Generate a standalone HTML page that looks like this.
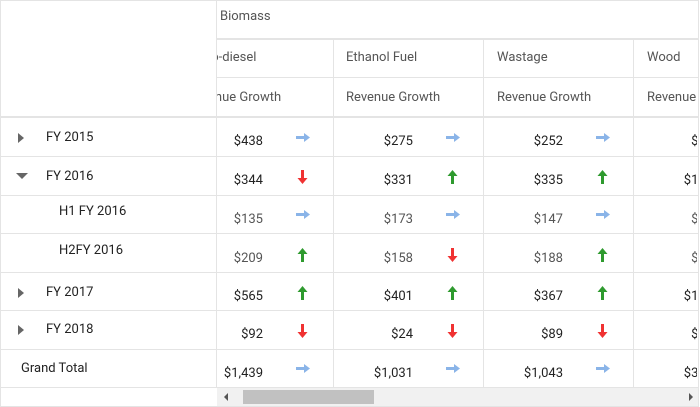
<!DOCTYPE html>
<html><head><style>
*{margin:0;padding:0;box-sizing:border-box}
body{width:700px;height:407px;background:#fff;font-family:"Roboto","Liberation Sans",sans-serif;font-size:13px;color:#333;position:relative;overflow:hidden}
.a{position:absolute}
.hl{position:absolute;height:1px;background:#e4e4e4}
.vl{position:absolute;width:1px;background:#e4e4e4}
.lbl{position:absolute;white-space:nowrap;line-height:16px}
.v{position:absolute;text-align:right;width:80px;line-height:16px;white-space:nowrap}
.b{color:#222;font-weight:400}
.n{color:#555}
.clip{position:absolute;left:217px;top:0;width:480px;height:387px;overflow:hidden}
.clip .in{position:absolute;left:-217px;top:0;width:900px;height:387px}
</style></head><body>
<div class="hl" style="left:0;top:0;width:699px"></div>
<div class="vl" style="left:0;top:0;height:407px"></div>
<div class="vl" style="left:698px;top:0;height:407px"></div>
<div class="hl" style="left:0;top:406px;width:699px"></div>
<div class="vl" style="left:216px;top:0;height:387px"></div>
<div class="hl" style="left:0;top:116px;width:699px;height:2px"></div>
<div class="hl" style="left:0;top:156px;width:699px"></div>
<div class="hl" style="left:0;top:195px;width:699px"></div>
<div class="hl" style="left:0;top:233px;width:699px"></div>
<div class="hl" style="left:0;top:272px;width:699px"></div>
<div class="hl" style="left:0;top:310px;width:699px"></div>
<div class="hl" style="left:0;top:349px;width:699px"></div>
<div class="hl" style="left:0;top:387px;width:699px"></div>
<div class="hl" style="left:216px;top:38px;width:483px;height:2px"></div>
<div class="hl" style="left:216px;top:77px;width:483px"></div>

<svg class="a" style="left:17px;top:133px" width="9" height="10"><path d="M1 0 L7 5 L1 10Z" fill="#666"/></svg>
<div class="lbl b" style="left:46px;top:130px">FY 2015</div>
<svg class="a" style="left:16px;top:173px" width="12" height="7"><path d="M0 0 L12 0 L6 6Z" fill="#666"/></svg>
<div class="lbl b" style="left:46px;top:169px">FY 2016</div>
<div class="lbl b" style="left:59px;top:204px">H1 FY 2016</div>
<div class="lbl b" style="left:59px;top:243px">H2FY 2016</div>
<svg class="a" style="left:17px;top:288px" width="9" height="10"><path d="M1 0 L7 5 L1 10Z" fill="#666"/></svg>
<div class="lbl b" style="left:46px;top:285px">FY 2017</div>
<svg class="a" style="left:17px;top:325px" width="9" height="10"><path d="M1 0 L7 5 L1 10Z" fill="#666"/></svg>
<div class="lbl b" style="left:46px;top:322px">FY 2018</div>
<div class="lbl b" style="left:21px;top:361px">Grand Total</div>

<div class="clip"><div class="in">
<div class="lbl n" style="left:220px;top:9px">Biomass</div>
<div class="vl" style="left:333px;top:39px;height:348px"></div>
<div class="vl" style="left:483px;top:39px;height:348px"></div>
<div class="vl" style="left:633px;top:39px;height:348px"></div>
<div class="lbl n" style="left:200px;top:50px">Bio-diesel</div>
<div class="lbl n" style="left:346px;top:50px">Ethanol Fuel</div>
<div class="lbl n" style="left:497px;top:50px">Wastage</div>
<div class="lbl n" style="left:647px;top:50px">Wood</div>
<div class="lbl n" style="left:187px;top:90px">Revenue Growth</div>
<div class="lbl n" style="left:346px;top:90px">Revenue Growth</div>
<div class="lbl n" style="left:497px;top:90px">Revenue Growth</div>
<div class="lbl n" style="left:647px;top:90px">Revenue Growth</div>

<svg width="0" height="0" style="position:absolute"><defs>
<g id="r"><path d="M0 5.5 H9" stroke="#8ab4e8" stroke-width="3"/><path d="M8 1 L14 5.5 L8 10Z" fill="#8ab4e8"/></g>
<g id="u"><path d="M5.5 14 V5" stroke="#2e9a2e" stroke-width="3"/><path d="M0.5 6 L5.5 0 L10.5 6Z" fill="#2e9a2e"/></g>
<g id="d"><path d="M5.5 0 V9" stroke="#f03232" stroke-width="3"/><path d="M0.5 8 L5.5 14 L10.5 8Z" fill="#f03232"/></g>
</defs></svg>

<div class="v b" style="left:183px;top:134px">$438</div><svg class="a" style="left:296px;top:131px" width="14" height="14"><use href="#r" y="1"/></svg>
<div class="v b" style="left:183px;top:173px">$344</div><svg class="a" style="left:297px;top:170px" width="14" height="14"><use href="#d"/></svg>
<div class="v n" style="left:183px;top:212px">$135</div><svg class="a" style="left:296px;top:208px" width="14" height="14"><use href="#r" y="1"/></svg>
<div class="v n" style="left:183px;top:251px">$209</div><svg class="a" style="left:297px;top:248px" width="14" height="14"><use href="#u"/></svg>
<div class="v b" style="left:183px;top:289px">$565</div><svg class="a" style="left:297px;top:286px" width="14" height="14"><use href="#u"/></svg>
<div class="v b" style="left:183px;top:327px">$92</div><svg class="a" style="left:297px;top:324px" width="14" height="14"><use href="#d"/></svg>
<div class="v b" style="left:183px;top:366px">$1,439</div><svg class="a" style="left:296px;top:362px" width="14" height="14"><use href="#r" y="1"/></svg>

<div class="v b" style="left:333px;top:134px">$275</div><svg class="a" style="left:446px;top:131px" width="14" height="14"><use href="#r" y="1"/></svg>
<div class="v b" style="left:333px;top:173px">$331</div><svg class="a" style="left:447px;top:170px" width="14" height="14"><use href="#u"/></svg>
<div class="v n" style="left:333px;top:212px">$173</div><svg class="a" style="left:446px;top:208px" width="14" height="14"><use href="#r" y="1"/></svg>
<div class="v n" style="left:333px;top:251px">$158</div><svg class="a" style="left:447px;top:248px" width="14" height="14"><use href="#d"/></svg>
<div class="v b" style="left:333px;top:289px">$401</div><svg class="a" style="left:447px;top:286px" width="14" height="14"><use href="#u"/></svg>
<div class="v b" style="left:333px;top:327px">$24</div><svg class="a" style="left:447px;top:324px" width="14" height="14"><use href="#d"/></svg>
<div class="v b" style="left:333px;top:366px">$1,031</div><svg class="a" style="left:446px;top:362px" width="14" height="14"><use href="#r" y="1"/></svg>

<div class="v b" style="left:483px;top:134px">$252</div><svg class="a" style="left:596px;top:131px" width="14" height="14"><use href="#r" y="1"/></svg>
<div class="v b" style="left:483px;top:173px">$335</div><svg class="a" style="left:597px;top:170px" width="14" height="14"><use href="#u"/></svg>
<div class="v n" style="left:483px;top:212px">$147</div><svg class="a" style="left:596px;top:208px" width="14" height="14"><use href="#r" y="1"/></svg>
<div class="v n" style="left:483px;top:251px">$188</div><svg class="a" style="left:597px;top:248px" width="14" height="14"><use href="#u"/></svg>
<div class="v b" style="left:483px;top:289px">$367</div><svg class="a" style="left:597px;top:286px" width="14" height="14"><use href="#u"/></svg>
<div class="v b" style="left:483px;top:327px">$89</div><svg class="a" style="left:597px;top:324px" width="14" height="14"><use href="#d"/></svg>
<div class="v b" style="left:483px;top:366px">$1,043</div><svg class="a" style="left:596px;top:362px" width="14" height="14"><use href="#r" y="1"/></svg>

<div class="v b" style="left:633px;top:134px">$98</div>
<div class="v b" style="left:633px;top:173px">$146</div>
<div class="v n" style="left:633px;top:212px">$78</div>
<div class="v n" style="left:633px;top:251px">$68</div>
<div class="v b" style="left:633px;top:289px">$106</div>
<div class="v b" style="left:633px;top:327px">$54</div>
<div class="v b" style="left:633px;top:366px">$324</div>
</div></div>

<div class="a" style="left:217px;top:388px;width:481px;height:18px;background:#f1f1f1"></div>
<div class="a" style="left:243px;top:390px;width:131px;height:14px;background:#c1c1c1"></div>
<svg class="a" style="left:223px;top:393px" width="6" height="8"><path d="M5 0 L1 4 L5 8Z" fill="#555"/></svg>
<svg class="a" style="left:688px;top:393px" width="6" height="8"><path d="M1 0 L5 4 L1 8Z" fill="#555"/></svg>
</body></html>
